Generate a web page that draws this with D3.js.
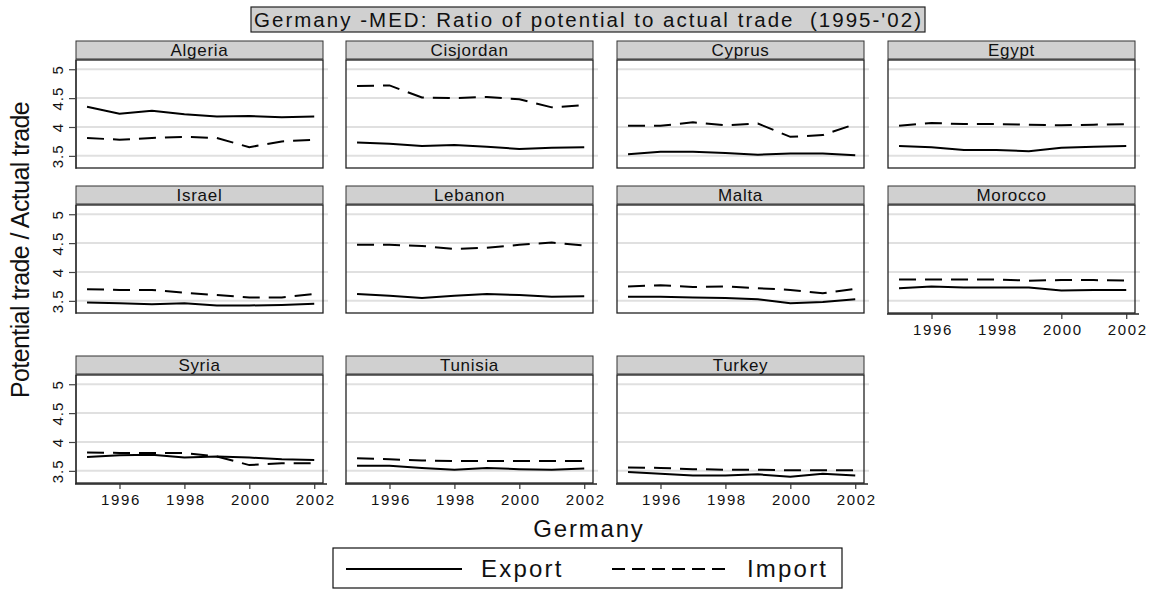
<!DOCTYPE html>
<html>
<head>
<meta charset="utf-8">
<script src="https://cdn.jsdelivr.net/npm/d3@7"></script>
<style>
body { margin: 0; background: #fff; }
text { font-family: "Liberation Sans", Arial, sans-serif; fill: #111; }
</style>
</head>
<body>
<div id="chart"></div>
<script>
// data
var years = [1995, 1996, 1997, 1998, 1999, 2000, 2001, 2002];
var countries = ["Algeria", "Cisjordan", "Cyprus", "Egypt", "Israel", "Lebanon", "Malta", "Morocco", "Syria", "Tunisia", "Turkey"];

var exportRatio = [
  [4.35, 4.23, 4.28, 4.22, 4.18, 4.19, 4.17, 4.18],
  [3.73, 3.71, 3.67, 3.69, 3.66, 3.62, 3.64, 3.65],
  [3.53, 3.57, 3.57, 3.55, 3.52, 3.54, 3.54, 3.51],
  [3.67, 3.65, 3.60, 3.60, 3.58, 3.64, 3.66, 3.67],
  [3.47, 3.46, 3.44, 3.46, 3.42, 3.42, 3.43, 3.45],
  [3.62, 3.59, 3.55, 3.59, 3.62, 3.60, 3.57, 3.58],
  [3.57, 3.57, 3.56, 3.55, 3.53, 3.46, 3.48, 3.53],
  [3.72, 3.75, 3.73, 3.73, 3.73, 3.68, 3.69, 3.69],
  [3.74, 3.77, 3.78, 3.73, 3.75, 3.73, 3.70, 3.69],
  [3.59, 3.59, 3.55, 3.52, 3.55, 3.53, 3.52, 3.54],
  [3.48, 3.45, 3.42, 3.42, 3.44, 3.40, 3.45, 3.42]
];
var importRatio = [
  [3.81, 3.78, 3.81, 3.83, 3.81, 3.65, 3.75, 3.78],
  [4.71, 4.72, 4.51, 4.50, 4.52, 4.48, 4.34, 4.38],
  [4.02, 4.02, 4.08, 4.03, 4.06, 3.83, 3.86, 4.05],
  [4.02, 4.07, 4.05, 4.05, 4.04, 4.03, 4.04, 4.05],
  [3.70, 3.69, 3.69, 3.64, 3.60, 3.56, 3.56, 3.62],
  [4.47, 4.47, 4.45, 4.40, 4.42, 4.47, 4.51, 4.46],
  [3.75, 3.77, 3.74, 3.75, 3.72, 3.69, 3.63, 3.71],
  [3.87, 3.87, 3.87, 3.87, 3.85, 3.86, 3.86, 3.85],
  [3.82, 3.81, 3.81, 3.81, 3.75, 3.60, 3.63, 3.63],
  [3.72, 3.70, 3.68, 3.67, 3.67, 3.67, 3.67, 3.67],
  [3.56, 3.55, 3.53, 3.52, 3.52, 3.51, 3.51, 3.51]
];
var yTicks = [3.5, 4, 4.5, 5];
var xTicks = [1996, 1998, 2000, 2002];
var seriesNames = ["Export", "Import"];

// layout
var W = 1153, H = 589;
var colLeft = [76, 346, 617, 888];
var rowTop = [60, 205, 375];
var pw = 247, ph = 108, stripH = 18;
var DASH = "17,9";

var svg = d3.select("#chart").append("svg").attr("width", W).attr("height", H);

var x = d3.scaleLinear().domain([1994.66, 2002.27]).range([0, pw]);
var y = d3.scaleLinear().domain([3.29, 5.16]).range([ph, 0]);

var line = d3.line().x(function(d, i) { return x(years[i]); }).y(function(d) { return y(d); });

// title
var title = svg.append("g");
title.append("rect").attr("x", 251).attr("y", 7).attr("width", 674).attr("height", 25)
  .attr("fill", "#d0d0d0").attr("stroke", "#222").attr("stroke-width", 1.2);
title.append("text").attr("x", 254).attr("y", 27)
  .attr("font-size", 20.5).attr("textLength", 667).attr("lengthAdjust", "spacing")
  .text("Germany -MED: Ratio of potential to actual trade \u00a0(1995-'02)");

countries.forEach(function(name, i) {
  var col = i % 4, row = Math.floor(i / 4);
  var g = svg.append("g").attr("transform", "translate(" + colLeft[col] + "," + rowTop[row] + ")");

  // strip
  g.append("rect").attr("x", 0).attr("y", -stripH - 1).attr("width", pw).attr("height", stripH)
    .attr("fill", "#d0d0d0").attr("stroke", "#333").attr("stroke-width", 1);
  g.append("text").attr("x", pw / 2).attr("y", -4.5).attr("text-anchor", "middle")
    .attr("font-size", 17).attr("letter-spacing", 0.7).text(name);

  // plot box
  g.append("rect").attr("x", 0).attr("y", 0).attr("width", pw).attr("height", ph)
    .attr("fill", "#fff");

  // grid
  g.selectAll(".grid").data(yTicks).enter().append("line")
    .attr("x1", 0).attr("x2", pw + 5)
    .attr("y1", function(d) { return y(d); }).attr("y2", function(d) { return y(d); })
    .attr("stroke", "#e0e0e0").attr("stroke-width", 2);

  g.append("rect").attr("x", 0).attr("y", 0).attr("width", pw).attr("height", ph)
    .attr("fill", "none").attr("stroke", "#222").attr("stroke-width", 1.3);

  // y axis on first column
  if (col === 0) {
    var ya = g.append("g").call(d3.axisLeft(y).tickValues(yTicks).tickSize(7).tickFormat(d3.format("")));
    ya.select(".domain").attr("stroke", "#222").attr("d", "M0,0V" + (ph + 1));
    ya.selectAll(".tick line").attr("stroke", "#444").attr("stroke-width", 1.2);
    ya.selectAll(".tick text").attr("font-size", 15).attr("font-family", "Liberation Sans, Arial, sans-serif")
      .attr("fill", "#111").attr("text-anchor", "middle").attr("letter-spacing", 1)
      .attr("transform", "rotate(-90)").attr("x", 0).attr("y", -18).attr("dy", "0.35em");
  }

  // x axis on bottom row and Morocco
  if (row === 2 || i === 7) {
    var xa = g.append("g").attr("transform", "translate(0," + (ph + 1) + ")")
      .call(d3.axisBottom(x).tickValues(xTicks).tickSize(5).tickFormat(d3.format("d")));
    xa.select(".domain").attr("stroke", "#222").attr("stroke-width", 1.3).attr("d", "M-1,0H" + (pw + 4));
    xa.selectAll(".tick line").attr("stroke", "#333").attr("stroke-width", 1.2);
    xa.selectAll(".tick text").attr("font-size", 15).attr("font-family", "Liberation Sans, Arial, sans-serif")
      .attr("fill", "#111").attr("letter-spacing", 1.6).attr("x", 1).attr("y", 10).attr("dy", "0.71em");
  }

  // series
  g.append("path").datum(exportRatio[i]).attr("d", line)
    .attr("fill", "none").attr("stroke", "#000").attr("stroke-width", 2);
  g.append("path").datum(importRatio[i]).attr("d", line)
    .attr("fill", "none").attr("stroke", "#000").attr("stroke-width", 2).attr("stroke-dasharray", DASH);
});

// axis titles
svg.append("text").attr("x", 589).attr("y", 537).attr("text-anchor", "middle")
  .attr("font-size", 24).attr("letter-spacing", 1.8).text("Germany");
svg.append("text").attr("transform", "translate(29,250) rotate(-90)").attr("text-anchor", "middle")
  .attr("font-size", 25).attr("letter-spacing", -0.6).text("Potential trade / Actual trade");

// legend
var leg = svg.append("g");
leg.append("rect").attr("x", 333).attr("y", 548).attr("width", 509).attr("height", 40)
  .attr("fill", "#fff").attr("stroke", "#111").attr("stroke-width", 1.2);
var legX = [[346, 462, 481], [612, 727, 747]];
seriesNames.forEach(function(s, k) {
  leg.append("line").attr("x1", legX[k][0]).attr("x2", legX[k][1]).attr("y1", 569).attr("y2", 569)
    .attr("stroke", "#000").attr("stroke-width", 2).attr("stroke-dasharray", k === 1 ? "13,7" : null);
  leg.append("text").attr("x", legX[k][2]).attr("y", 577).attr("font-size", 24)
    .attr("letter-spacing", 2.2).text(s);
});
</script>
</body>
</html>
